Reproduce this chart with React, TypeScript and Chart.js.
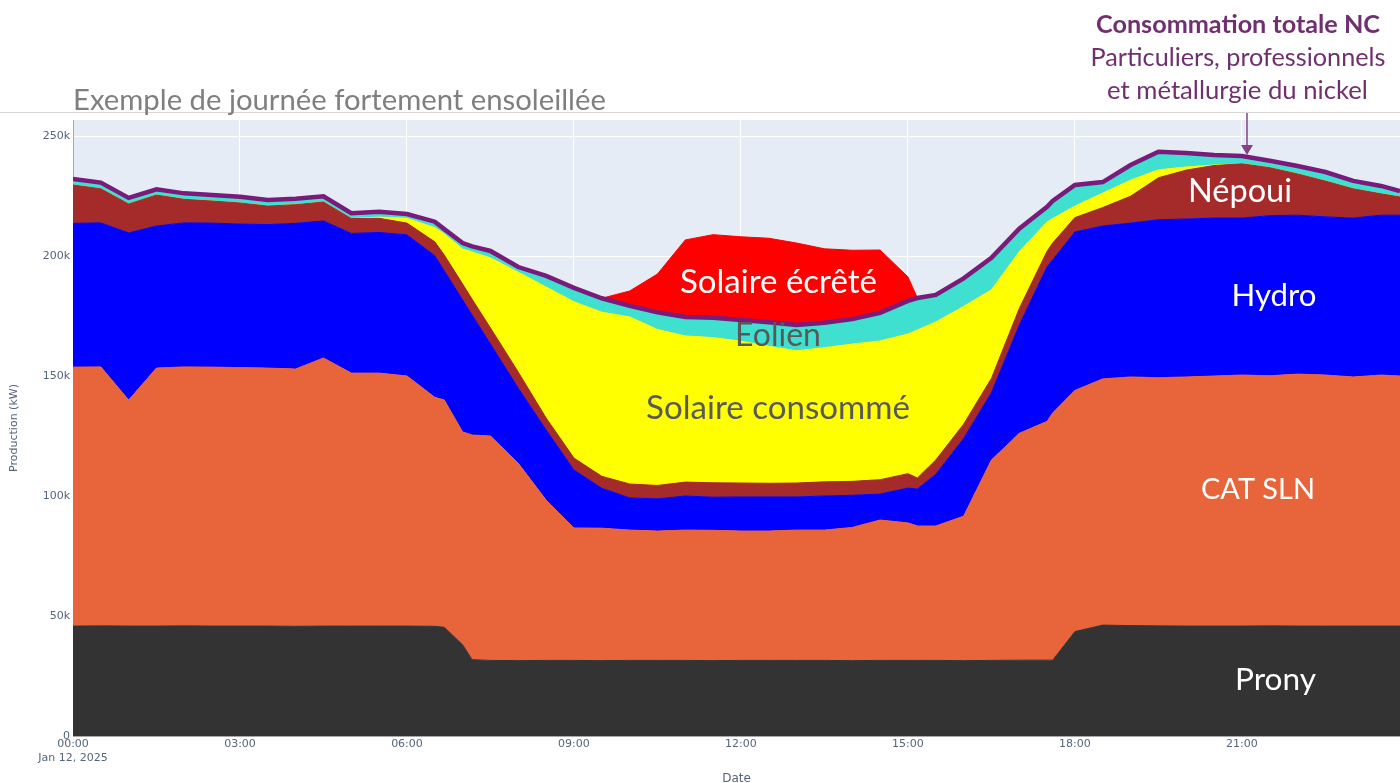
import React, { useEffect, useRef } from 'react';
import { Chart, registerables } from 'chart.js';

Chart.register(...registerables);

// Time of day in hours (mostly half-hour steps, last point 23:50)
const hours = [
  0, 0.5, 1, 1.5, 2, 2.5, 3, 3.5, 4, 4.5, 5, 5.5, 6, 6.5,
  6.67, 7, 7.17,
  7.5, 8, 8.5, 9, 9.5, 10, 10.5, 11, 11.5, 12, 12.5, 13, 13.5, 14, 14.5, 15,
  15.17,
  15.5, 16, 16.5, 17, 17.5,
  17.6,
  18, 18.5, 19, 19.5, 20, 20.5, 21, 21.5, 22, 22.5, 23, 23.5,
  23.84,
];

// Production per source, in thousands of kW
const prony = [
  45.8, 45.9, 45.8, 45.8, 45.9, 45.8, 45.8, 45.8, 45.7, 45.8, 45.8, 45.8, 45.8, 45.7,
  45.3, 38, 31.8,
  31.5, 31.4, 31.5, 31.5, 31.4, 31.5, 31.5, 31.5, 31.4, 31.5, 31.5, 31.5, 31.5, 31.4, 31.5, 31.5,
  31.5,
  31.5, 31.4, 31.5, 31.6, 31.6,
  31.6,
  43.5, 46.2, 46, 45.9, 45.8, 45.8, 45.8, 45.9, 45.8, 45.8, 45.8, 45.8,
  45.8,
];
const catSln = [
  107.9, 107.9, 94.2, 107.5, 107.9, 107.9, 107.7, 107.5, 107.2, 111.7, 105.4, 105.4, 104.2, 95.4,
  94.7, 88.7, 93.6,
  93.5, 82.2, 66.8, 55.2, 55.2, 54.3, 53.9, 54.3, 54.3, 53.9, 53.9, 54.3, 54.3, 55.5, 58.5, 57.3,
  56,
  56, 60.2, 83.5, 94.5, 99.5,
  103,
  100.5, 102.6, 103.6, 103.4, 103.8, 104.2, 104.6, 104.2, 105, 104.6, 103.8, 104.6,
  104.2,
];
const hydro = [
  59.9, 60, 69.6, 59.2, 60, 60, 59.8, 59.8, 60.7, 57.1, 58.2, 58.6, 58.8, 59,
  53.8, 55, 50,
  38.3, 31.3, 29.2, 24.1, 16.6, 13.4, 13.4, 14.2, 13.8, 14.2, 14.2, 13.8, 14.2, 13.4, 10.8, 14.5,
  15.4,
  21.5, 32.3, 28, 45, 64.4,
  63.7,
  66, 63.7, 64.1, 65.8, 65.8, 65.8, 65.4, 66.7, 66.2, 65.9, 66.2, 66.6,
  67,
];
const nepoui = [
  16.0, 14.2, 12.1, 12.9, 9.8, 9.2, 8.8, 7.7, 7.8, 7.9, 6.2, 5.9, 4.9, 5.8,
  6.6, 6.6, 6.6,
  6.7, 6.7, 5, 5, 5, 5.8, 5.6, 5.8, 6, 5.8, 5.7, 5.8, 5.9, 5.8, 6, 6,
  4.6,
  6, 6, 6, 7, 6.5,
  7.1,
  6, 7.7, 11.2, 17.5, 20.4, 21.9, 22.6, 20, 17.2, 14.9, 12.2, 8.9,
  7.6,
];
const solaireConsomme = [
  0, 0, 0, 0, 0, 0, 0, 0, 0, 0, 0, 0.5, 2, 5.9,
  8.8, 14.6, 19.7,
  29.2, 41.6, 54.6, 65.1, 68.4, 69.6, 65, 60.9, 60.5, 59.1, 57.1, 55.1, 55.9, 57.2, 57.8, 58.2,
  61.7,
  57.5, 49.1, 36.9, 23.7, 12.2,
  10.2,
  4.8, 6, 6.7, 3.3, 1.3, 0.2, 0, 0, 0, 0, 0, 0,
  0,
];
const eolien = [
  2.5, 2.6, 2.5, 2.4, 2.5, 2.5, 2.6, 2.5, 2.5, 2.4, 2.2, 2.2, 1.8, 2.5,
  2.0, 2.5, 2.3,
  2.9, 2.2, 4.6, 5.8, 5.8, 4.6, 7.1, 7.9, 8.3, 8.8, 10, 10.8, 10.4, 10.4, 11.7, 13.8,
  13.3,
  11.3, 11.7, 13.3, 9.6, 6.3,
  7.3,
  8.8, 4.6, 6.3, 7.5, 5.8, 4.2, 3.3, 2.9, 3.3, 3.8, 3.3, 3.3,
  2.5,
];
const solaireEcrete = [
  0, 0, 0, 0, 0, 0, 0, 0, 0, 0, 0, 0, 0, 0,
  0, 0, 0,
  0, 0, 0, 0, 0, 6.2, 16, 32.1, 34.6, 34.7, 35, 34.1, 30.8, 28.7, 26.2, 10,
  0,
  0, 0, 0, 0, 0,
  0,
  0, 0, 0, 0, 0, 0, 0, 0, 0, 0, 0, 0,
  0,
];

const yTicks = [0, 50000, 100000, 150000, 200000, 250000];
const xTicks = [0, 3, 6, 9, 12, 15, 18, 21];
const dateLabel = 'Jan 12, 2025';

const TICK_COLOR = '#56657a';
const ANNOT_FONT = 'Lato';

function fitText(
  ctx: CanvasRenderingContext2D,
  text: string,
  x: number,
  baseline: number,
  width: number,
  weight: string,
  color: string,
  align: CanvasTextAlign = 'center'
) {
  ctx.font = `${weight} 100px ${ANNOT_FONT}`;
  const w = ctx.measureText(text).width;
  const size = (100 * width) / w;
  ctx.font = `${weight} ${size}px ${ANNOT_FONT}`;
  ctx.fillStyle = color;
  ctx.textAlign = align;
  ctx.textBaseline = 'alphabetic';
  ctx.fillText(text, x, baseline);
}

export default function App() {
  const ref = useRef<HTMLCanvasElement>(null);

  useEffect(() => {
    const canvas = ref.current;
    if (!canvas) return;

    const total = hours.map((_, i) =>
      prony[i] + catSln[i] + hydro[i] + nepoui[i] + solaireConsomme[i] + eolien[i]
    );
    const toPts = (arr: number[]) => arr.map((v, i) => ({ x: hours[i], y: v * 1000 }));
    const area = (label: string, data: number[], color: string, fill: string) => ({
      label,
      data: toPts(data),
      backgroundColor: color,
      borderColor: color,
      borderWidth: 1,
      pointRadius: 0,
      fill,
      stack: 'prod',
      tension: 0,
    });

    const bgPlugin = {
      id: 'plotBg',
      beforeDraw(chart: any) {
        const { ctx, chartArea: a } = chart;
        ctx.save();
        ctx.fillStyle = '#E5ECF6';
        ctx.fillRect(a.left, a.top, a.right - a.left, a.bottom - a.top);
        ctx.restore();
      },
    };

    const annotPlugin = {
      id: 'annotations',
      afterDraw(chart: any) {
        const ctx: CanvasRenderingContext2D = chart.ctx;
        ctx.save();
        ctx.strokeStyle = '#d6d6d6';
        ctx.lineWidth = 1;
        ctx.beginPath();
        ctx.moveTo(0, 112.5);
        ctx.lineTo(1400, 112.5);
        ctx.stroke();

        fitText(ctx, 'Exemple de journée fortement ensoleillée', 73, 110, 533, 'normal', '#7f7f7f', 'left');

        const purple = '#70306f';
        fitText(ctx, 'Consommation totale NC', 1238, 33, 284, 'bold', purple);
        fitText(ctx, 'Particuliers, professionnels', 1238, 66, 295, 'normal', purple);
        fitText(ctx, 'et métallurgie du nickel', 1237.5, 99, 261, 'normal', purple);

        ctx.strokeStyle = '#86408a';
        ctx.fillStyle = '#86408a';
        ctx.lineWidth = 1.5;
        ctx.beginPath();
        ctx.moveTo(1247, 113);
        ctx.lineTo(1247, 148);
        ctx.stroke();
        ctx.beginPath();
        ctx.moveTo(1241, 145);
        ctx.lineTo(1253, 145);
        ctx.lineTo(1247, 155);
        ctx.closePath();
        ctx.fill();

        fitText(ctx, 'Solaire écrêté', 778.5, 293, 197, 'normal', '#ffffff');
        fitText(ctx, 'Eolien', 778, 346, 86, 'normal', '#595959');
        fitText(ctx, 'Solaire consommé', 778, 419, 264, 'normal', '#595959');
        fitText(ctx, 'Népoui', 1240, 202, 104, 'normal', '#ffffff');
        fitText(ctx, 'Hydro', 1274, 306, 85, 'normal', '#ffffff');
        fitText(ctx, 'CAT SLN', 1258, 499, 114, 'normal', '#ffffff');
        fitText(ctx, 'Prony', 1275.5, 690, 81, 'normal', '#ffffff');
        ctx.restore();
      },
    };

    const tickFont = { family: 'DejaVu Sans', size: 11 };

    const chart = new Chart(canvas, {
      type: 'line',
      data: {
        datasets: [
          {
            label: 'Consommation totale NC',
            data: toPts(total),
            borderColor: '#7a1b7c',
            borderWidth: 4.5,
            pointRadius: 0,
            fill: false,
            stack: 'total',
            tension: 0,
          } as any,
          area('Prony', prony, '#333333', 'origin'),
          area('CAT SLN', catSln, '#E8643A', '-1'),
          area('Hydro', hydro, '#0000FF', '-1'),
          area('Népoui', nepoui, '#A52A2A', '-1'),
          area('Solaire consommé', solaireConsomme, '#FFFF00', '-1'),
          area('Eolien', eolien, '#40E0D0', '-1'),
          area('Solaire écrêté', solaireEcrete, '#FF0000', '-1'),
        ],
      },
      options: {
        responsive: false,
        animation: false,
        devicePixelRatio: 1,
        layout: { padding: { top: 120, right: 0, left: 0, bottom: 0 } },
        plugins: {
          legend: { display: false },
          tooltip: { enabled: false },
        },
        scales: {
          x: {
            type: 'linear',
            min: 0,
            max: 23.84,
            afterBuildTicks: (s: any) => {
              s.ticks = xTicks.map((v) => ({ value: v }));
            },
            afterFit: (s: any) => {
              s.height = 64;
            },
            ticks: {
              autoSkip: false,
              maxRotation: 0,
              padding: 2,
              color: TICK_COLOR,
              font: tickFont,
              callback: (v: any) => {
                const h = String(Math.round(Number(v))).padStart(2, '0') + ':00';
                return Number(v) === 0 ? [h, dateLabel] : h;
              },
            },
            grid: { color: '#ffffff', lineWidth: 1, drawTicks: false },
            border: { display: true, color: '#a8a8a8', width: 1 },
            title: {
              display: true,
              text: 'Date',
              color: TICK_COLOR,
              font: { family: 'DejaVu Sans', size: 12 },
              padding: { top: 0, bottom: 14 },
            },
          },
          y: {
            type: 'linear',
            stacked: true,
            min: 0,
            max: 256667,
            afterBuildTicks: (s: any) => {
              s.ticks = yTicks.map((v) => ({ value: v }));
            },
            afterFit: (s: any) => {
              s.width = 73;
            },
            ticks: {
              padding: 3,
              color: TICK_COLOR,
              font: tickFont,
              callback: (v: any) => (Number(v) === 0 ? '0' : Number(v) / 1000 + 'k'),
            },
            grid: { color: '#ffffff', lineWidth: 1, drawTicks: false },
            border: { display: true, color: '#a8a8a8', width: 1 },
            title: {
              display: true,
              text: 'Production (kW)',
              color: TICK_COLOR,
              font: { family: 'DejaVu Sans', size: 11 },
              padding: { top: 8, bottom: 0 },
            },
          },
        },
      } as any,
      plugins: [bgPlugin, annotPlugin],
    });

    return () => chart.destroy();
  }, []);

  return (
    <div
      style={{
        position: 'fixed',
        left: 0,
        top: 0,
        width: 1400,
        height: 783,
        overflow: 'hidden',
        background: '#ffffff',
      }}
    >
      <canvas ref={ref} width={1400} height={800} style={{ display: 'block' }} />
    </div>
  );
}
